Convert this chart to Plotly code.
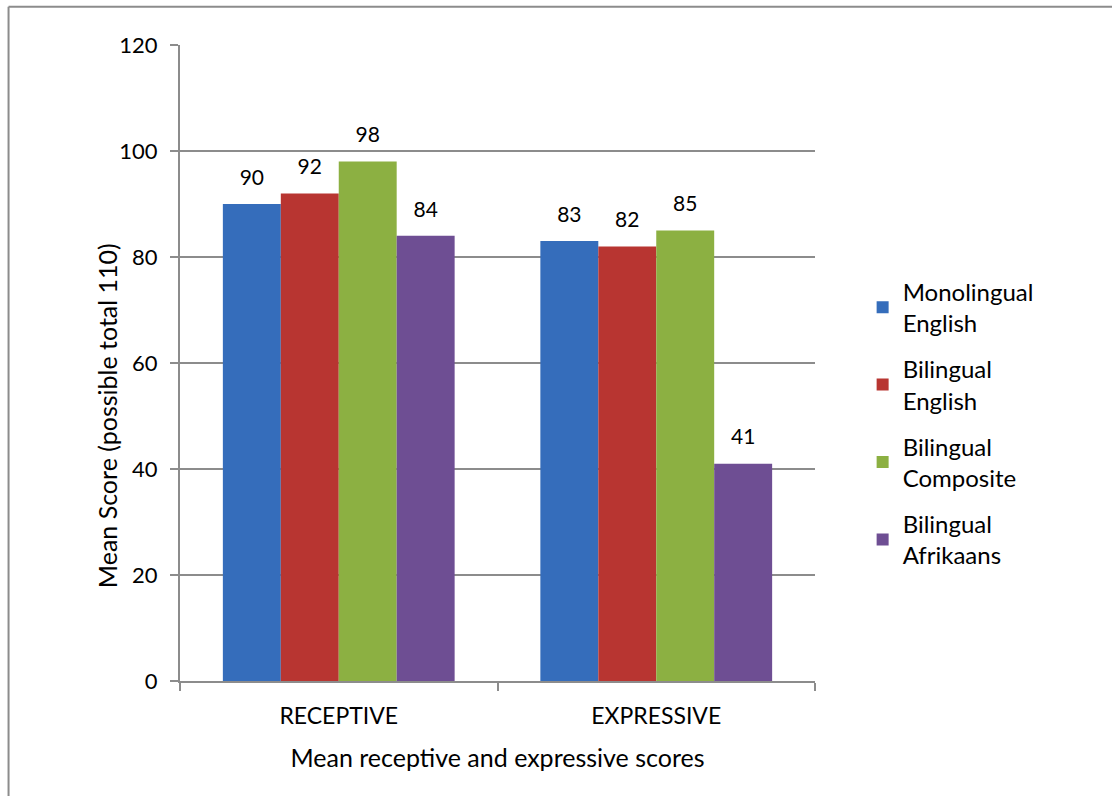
import plotly.graph_objects as go

# Mean scores per test section and language group
categories = ["RECEPTIVE", "EXPRESSIVE"]
series_names = ["Monolingual<br>English", "Bilingual<br>English",
                "Bilingual<br>Composite", "Bilingual<br>Afrikaans"]
monolingual_english = [90, 83]
bilingual_english = [92, 82]
bilingual_composite = [98, 85]
bilingual_afrikaans = [84, 41]
y_ticks = [0, 20, 40, 60, 80, 100, 120]

series_values = [monolingual_english, bilingual_english,
                 bilingual_composite, bilingual_afrikaans]
colors = ["#356dbb", "#b83531", "#8cb042", "#6e4e93"]

FONT = "Lato"
fig = go.Figure()
for i, (name, vals, col) in enumerate(zip(series_names, series_values, colors)):
    fig.add_trace(go.Bar(
        x=categories, y=vals, name=name, legendgroup=f"g{i}",
        marker=dict(color=col, line=dict(width=0)),
        # value label, with a short blank line below to lift it off the bar
        texttemplate="<span style='font-size:21px'>%{y}</span><br> ",
        textposition="outside",
        textfont=dict(family=FONT, size=11, color="#000000"),
        cliponaxis=False,
    ))

grid = "#8c8c8c"
fig.update_layout(
    width=1112, height=796,
    margin=dict(l=180, r=297, t=45, b=115),
    paper_bgcolor="white", plot_bgcolor="white",
    barmode="group", bargap=0.27, bargroupgap=0,
    font=dict(family=FONT, size=22, color="#000000"),
    legend=dict(x=1.075, y=0.647, xanchor="left", yanchor="top",
                font=dict(family=FONT, size=24), tracegroupgap=12,
                itemwidth=30, bgcolor="rgba(0,0,0,0)"),
    showlegend=True,
    xaxis=dict(
        title=dict(text="Mean receptive and expressive scores",
                   font=dict(size=25), standoff=22),
        showline=True, linecolor=grid, linewidth=2,
        ticks="outside", ticklen=8, tickcolor=grid, tickwidth=2,
        tickson="boundaries", tickfont=dict(size=23),
        ticklabelstandoff=13,
    ),
    yaxis=dict(
        range=[0, 120], tickvals=y_ticks,
        showline=True, linecolor=grid, linewidth=2,
        showgrid=True, gridcolor=grid, gridwidth=2,
        ticks="outside", ticklen=8, tickcolor=grid, tickwidth=2,
        tickfont=dict(size=22), zeroline=False,
        ticklabelstandoff=8,
    ),
    annotations=[
        # vertical axis title, sitting a little below the axis midpoint
        dict(text="Mean Score (possible total 110)", textangle=-90,
             xref="paper", yref="paper", x=-0.116, y=0.417,
             xanchor="center", yanchor="middle", showarrow=False,
             font=dict(family=FONT, size=25, color="#000000")),
    ],
    shapes=[
        # outer frame: left and top edges
        dict(type="line", xref="paper", yref="paper",
             x0=-0.27, x1=-0.27, y0=1.06, y1=-0.2,
             line=dict(color="#8c8c8c", width=2)),
        dict(type="line", xref="paper", yref="paper",
             x0=-0.27, x1=1.5, y0=1.06, y1=1.06,
             line=dict(color="#8c8c8c", width=2)),
    ],
)

fig.write_html("out.html")
